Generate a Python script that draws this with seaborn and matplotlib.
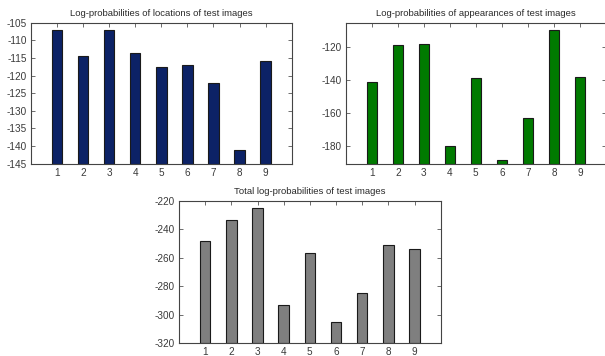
import numpy as np
import pandas as pd
import matplotlib
matplotlib.use("Agg")
import matplotlib.pyplot as plt
import seaborn as sns

# Test image indices
images = [1, 2, 3, 4, 5, 6, 7, 8, 9]

# Log-probabilities per test image
loc_logp = [-107.0, -114.5, -107.0, -113.5, -117.5, -117.0, -122.0, -141.0, -116.0]
app_logp = [-141.0, -119.0, -118.4, -180.0, -139.0, -188.4, -163.0, -110.0, -138.0]
total_logp = [-248.0, -233.4, -225.4, -293.4, -256.4, -305.4, -285.0, -251.0, -254.0]

loc_ticks = [-145, -140, -135, -130, -125, -120, -115, -110, -105]
app_ticks = [-180, -160, -140, -120]
total_ticks = [-320, -300, -280, -260, -240, -220]

sns.set_style("white")
plt.rcParams["font.family"] = ["Liberation Sans", "DejaVu Sans"]
plt.rcParams["axes.unicode_minus"] = False

W, H = 605, 356
fig = plt.figure(figsize=(W / 100, H / 100), dpi=100)


def add_axes(left, top, right, bottom):
    return fig.add_axes([left / W, 1 - bottom / H, (right - left) / W, (bottom - top) / H])


def bar_panel(ax, values, ylim, ticks, color, title):
    df = pd.DataFrame({"image": images, "logp": values})
    sns.barplot(data=df, x="image", y="logp", color=color, width=0.4,
                edgecolor="#1a1a1a", linewidth=0.8, saturation=1, ax=ax)
    # bars rise from the lower axis limit up to each value
    base = ylim[0]
    for patch, v in zip(ax.patches, values):
        patch.set_y(base)
        patch.set_height(v - base)
    ax.set_xlim(-1, len(images))
    ax.set_ylim(*ylim)
    ax.set_yticks(ticks)
    ax.set_xlabel("")
    ax.set_ylabel("")
    ax.set_title(title, fontsize=6.8, color="#2a2a2a", pad=5)
    ax.tick_params(direction="in", length=3, width=0.6, labelsize=7.2,
                   colors="#555555", labelcolor="#3a3a3a",
                   top=True, right=True, bottom=True, left=True, pad=3)
    for s in ax.spines.values():
        s.set_visible(True)
        s.set_color("#444444")
        s.set_linewidth(0.8)


ax1 = add_axes(31, 22.7, 291.7, 163.7)
bar_panel(ax1, loc_logp, (-145, -105), loc_ticks, "#0c2266",
          "Log-probabilities of locations of test images")

ax2 = add_axes(345.7, 22.7, 606, 163.7)
bar_panel(ax2, app_logp, (-190.5, -105.5), app_ticks, "#007a00",
          "Log-probabilities of appearances of test images")

ax3 = add_axes(179, 200.7, 440.7, 343.3)
bar_panel(ax3, total_logp, (-320, -220), total_ticks, "#7f7f7f",
          "Total log-probabilities of test images")

fig.savefig("out.png", dpi=100, facecolor="white")
